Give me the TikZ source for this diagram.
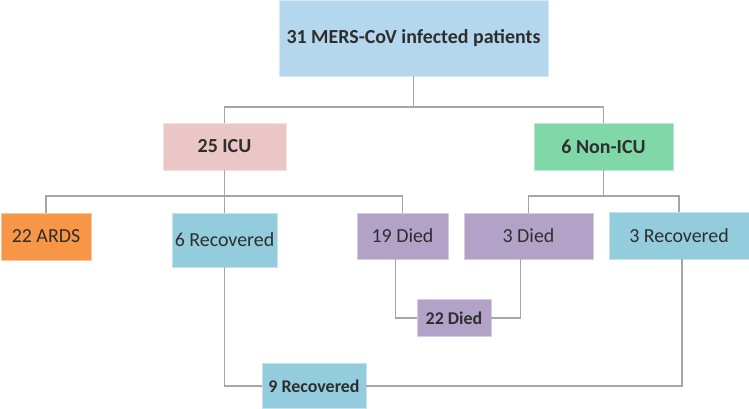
\documentclass[tikz,border=0pt]{standalone}
\usepackage{fontspec}
\setmainfont{Carlito}
\definecolor{cTop}{HTML}{B4D7EE}
\definecolor{cICU}{HTML}{EAC6C6}
\definecolor{cNon}{HTML}{80D8A8}
\definecolor{cArds}{HTML}{F79646}
\definecolor{cRec}{HTML}{93CDDD}
\definecolor{cDied}{HTML}{B3A2C7}
\definecolor{cLine}{HTML}{A6A6A6}
\definecolor{cText}{HTML}{2E2E2E}
\tikzset{
  box/.style={rectangle, inner sep=0pt, text=cText, font=\fontsize{20}{24}\selectfont, draw=#1!55!white, line width=0.8pt, fill=#1},
  bbox/.style={box=#1, font=\fontsize{20}{24}\selectfont\bfseries},
  conn/.style={draw=cLine, line width=1.2pt}
}
\begin{document}
\begin{tikzpicture}[x=1bp,y=-1bp]
\useasboundingbox (0,0) rectangle (749,408);
\node[bbox=cTop, minimum width=269bp, minimum height=76bp, font=\fontsize{20}{24}\selectfont\bfseries] (top) at (413.5,38) {31 MERS-CoV infected patients};
\node[bbox=cICU, minimum width=123bp, minimum height=47bp] (icu) at (224.5,146.5) {25 ICU};
\node[bbox=cNon, minimum width=139bp, minimum height=47bp] (non) at (603.5,146.5) {6 Non-ICU};
\node[box=cArds, minimum width=90bp, minimum height=47bp] (ards) at (46,236.5) {22 ARDS};
\node[box=cRec, minimum width=105bp, minimum height=54bp] (rec6) at (224.5,240) {6 Recovered};
\node[box=cDied, minimum width=91bp, minimum height=46bp] (d19) at (402.5,236) {19 Died};
\node[box=cDied, minimum width=129bp, minimum height=46bp] (d3) at (528.5,236) {3 Died};
\node[box=cRec, minimum width=140bp, minimum height=47bp] (rec3) at (679,235.5) {3 Recovered};
\node[bbox=cDied, minimum width=74bp, minimum height=37bp, font=\fontsize{18}{22}\selectfont\bfseries] (d22) at (454,318) {22 Died};
\node[bbox=cRec, minimum width=104bp, minimum height=45bp, font=\fontsize{18}{22}\selectfont\bfseries] (rec9) at (314,386) {9 Recovered};
\coordinate (j1) at (413.5,107);
\coordinate (j2) at (224.5,196);
\coordinate (j3) at (603.5,196);
\draw[conn] (top.south) -- (j1);
\draw[conn] (icu.north) |- (j1) -| (non.north);
\draw[conn] (icu.south) -- (rec6.north);
\draw[conn] (ards.north) |- (j2) -| (d19.north);
\draw[conn] (non.south) -- (j3);
\draw[conn] (d3.north) |- (j3) -| (rec3.north);
\draw[conn] ([xshift=-7bp]d19.south) |- (d22.west);
\draw[conn] ([xshift=-8bp]d3.south) |- (d22.east);
\draw[conn] (rec6.south) |- (rec9.west);
\draw[conn] ([xshift=3bp]rec3.south) |- (rec9.east);
\end{tikzpicture}
\end{document}
